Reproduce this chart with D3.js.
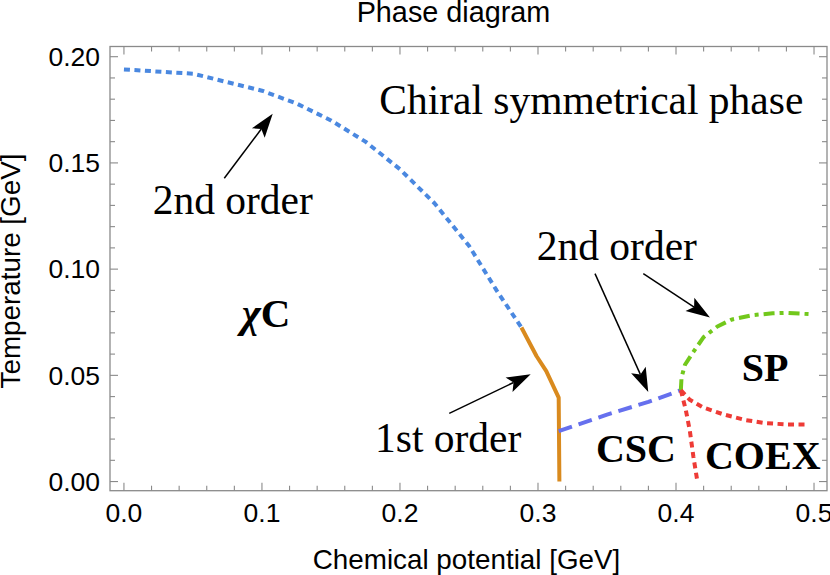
<!DOCTYPE html>
<html><head><meta charset="utf-8">
<script src="https://cdn.jsdelivr.net/npm/d3@7"></script>
<style>body{margin:0;background:#fff}svg{display:block}</style>
</head><body>
<svg id="c" width="830" height="575"></svg>
<script>
// ---- data (mu [GeV], T [GeV]) ----
const chiral2nd = [[0,0.194],[0.05,0.192],[0.1,0.184],[0.125,0.178],[0.15,0.170],[0.175,0.160],[0.2,0.147],[0.225,0.131],[0.25,0.111],[0.27,0.090],[0.288,0.0725]];
const chiral1st = [[0.288,0.0725],[0.299,0.059],[0.306,0.052],[0.315,0.0395],[0.3155,0.0]];
const cscLine   = [[0.315,0.0237],[0.35,0.0315],[0.38,0.0375],[0.4035,0.043]];
const spLine    = [[0.4035,0.043],[0.404,0.049],[0.4065,0.055],[0.412,0.0605],[0.42,0.068],[0.43,0.073],[0.44,0.0762],[0.455,0.0783],[0.47,0.0792],[0.48,0.0794],[0.497,0.0788]];
const coexUpper = [[0.4035,0.043],[0.41,0.0385],[0.42,0.0348],[0.435,0.0315],[0.45,0.029],[0.465,0.0275],[0.48,0.0269],[0.495,0.0269]];
const coexLower = [[0.4035,0.043],[0.407,0.034],[0.410,0.024],[0.4126,0.0117],[0.4155,0.0]];

const xTicks = [0.0,0.1,0.2,0.3,0.4,0.5];
const xTickLabels = ["0.0","0.1","0.2","0.3","0.4","0.5"];
const yTicks = [0.00,0.05,0.10,0.15,0.20];
const yTickLabels = ["0.00","0.05","0.10","0.15","0.20"];
const xMinor = d3.range(0,26).map(i=>i*0.02);
const yMinor = d3.range(0,21).map(i=>i*0.01);

const labels = [
  {t:"Chiral symmetrical phase", mu:0.185, T:0.1731, bold:false},
  {t:"2nd order", mu:0.0208, T:0.1261, bold:false},
  {t:"2nd order", mu:0.2991, T:0.1042, bold:false},
  {t:"1st order", mu:0.1819, T:0.0139, bold:false},
  {t:"SP", mu:0.4476, T:0.0474, bold:true},
  {t:"CSC", mu:0.342, T:0.0093, bold:true},
  {t:"COEX", mu:0.421, T:0.0057, bold:true}
];
const chiLabel = {mu:0.0853, T:0.0728};
const arrows = [
  {from:[0.0727,0.1428], to:[0.1078,0.1731]},
  {from:[0.2357,0.0321], to:[0.2947,0.0505]},
  {from:[0.3413,0.0979], to:[0.3799,0.0422]},
  {from:[0.3763,0.0979], to:[0.4246,0.0772]}
];

// ---- drawing ----
const svg = d3.select("#c");
const L=110, R=827, Tp=46.5, B=490.7;
const x = d3.scaleLinear().domain([-0.0101,0.5094]).range([L,R]);
const y = d3.scaleLinear().domain([-0.0043,0.2048]).range([B,Tp]);
const frameCol = "#8a8a8a";
const sans = "'Liberation Sans', Arial, sans-serif";
const serif = "'Liberation Serif', 'Times New Roman', serif";

const line = d3.line().x(d=>x(d[0])).y(d=>y(d[1]));
function curve(data, color, dash, w){
  svg.append("path").datum(data).attr("d",line).attr("fill","none")
    .attr("stroke",color).attr("stroke-width",w||4).attr("stroke-dasharray",dash||null)
    .attr("stroke-linejoin","round");
}
curve(chiral2nd, "#4a88e0", "6,4.5", 4);
curve(chiral1st, "#d98a1e", null, 4);
curve(cscLine, "#6670ee", "14,7", 4);
curve(spLine, "#72c81c", "11,5,4,5", 4);
curve(coexUpper, "#ee3b36", "6,4.5", 4);
curve(coexLower, "#ee3b36", "6,4.5", 4);

// frame
svg.append("rect").attr("x",L).attr("y",Tp).attr("width",R-L).attr("height",B-Tp)
  .attr("fill","none").attr("stroke",frameCol).attr("stroke-width",1.3);

const g = svg.append("g").attr("stroke",frameCol).attr("stroke-width",1.1);
function isMajor(v, arr){ return arr.some(a=>Math.abs(a-v)<1e-9); }
xMinor.forEach(v=>{
  const len = isMajor(v,xTicks)?8:5;
  g.append("line").attr("x1",x(v)).attr("x2",x(v)).attr("y1",B).attr("y2",B-len);
  g.append("line").attr("x1",x(v)).attr("x2",x(v)).attr("y1",Tp).attr("y2",Tp+len);
});
yMinor.forEach(v=>{
  const len = isMajor(v,yTicks)?8:5;
  g.append("line").attr("y1",y(v)).attr("y2",y(v)).attr("x1",L).attr("x2",L+len);
  g.append("line").attr("y1",y(v)).attr("y2",y(v)).attr("x1",R).attr("x2",R-len);
});

// tick labels
svg.selectAll(".xt").data(xTicks).enter().append("text")
  .attr("x",d=>x(d)).attr("y",521.5).attr("text-anchor","middle")
  .attr("font-family",sans).attr("font-size",26.5).attr("fill","#000")
  .text((d,i)=>xTickLabels[i]);
svg.selectAll(".yt").data(yTicks).enter().append("text")
  .attr("x",100).attr("y",d=>y(d)).attr("dy","0.35em").attr("text-anchor","end")
  .attr("font-family",sans).attr("font-size",26.5).attr("fill","#000")
  .text((d,i)=>yTickLabels[i]);

// axis labels & title
svg.append("text").attr("x",466.5).attr("y",569).attr("text-anchor","middle")
  .attr("font-family",sans).attr("font-size",27.8).text("Chemical potential [GeV]");
svg.append("text").attr("transform","translate(19.5,271) rotate(-90)").attr("text-anchor","middle")
  .attr("font-family",sans).attr("font-size",27.8).text("Temperature [GeV]");
svg.append("text").attr("x",453.5).attr("y",22).attr("text-anchor","middle")
  .attr("font-family",sans).attr("font-size",28.8).text("Phase diagram");

// annotations
labels.forEach(l=>{
  svg.append("text").attr("x",x(l.mu)).attr("y",y(l.T))
    .attr("font-family",serif).attr("font-size",l.bold?40:41.5)
    .attr("font-weight",l.bold?"bold":"normal").text(l.t);
});
const chi = svg.append("text").attr("x",x(chiLabel.mu)).attr("y",y(chiLabel.T))
  .attr("font-family",serif).attr("font-size",41).attr("font-weight","bold");
chi.append("tspan").attr("font-style","italic").text("χ");
chi.append("tspan").text("C");

// arrows
arrows.forEach(a=>{
  const x1=x(a.from[0]), y1=y(a.from[1]), x2=x(a.to[0]), y2=y(a.to[1]);
  const dx=x2-x1, dy=y2-y1, len=Math.hypot(dx,dy), ux=dx/len, uy=dy/len;
  const hl=24, hw=8, notch=5;
  const bx=x2-ux*hl, by=y2-uy*hl;
  svg.append("line").attr("x1",x1).attr("y1",y1).attr("x2",bx+ux*notch).attr("y2",by+uy*notch)
    .attr("stroke","#000").attr("stroke-width",1.5);
  const pts=[[x2,y2],[bx-uy*hw,by+ux*hw],[bx+ux*notch,by+uy*notch],[bx+uy*hw,by-ux*hw]];
  svg.append("path").attr("d","M"+pts.map(p=>p.join(",")).join("L")+"Z").attr("fill","#000");
});
</script>
</body></html>
